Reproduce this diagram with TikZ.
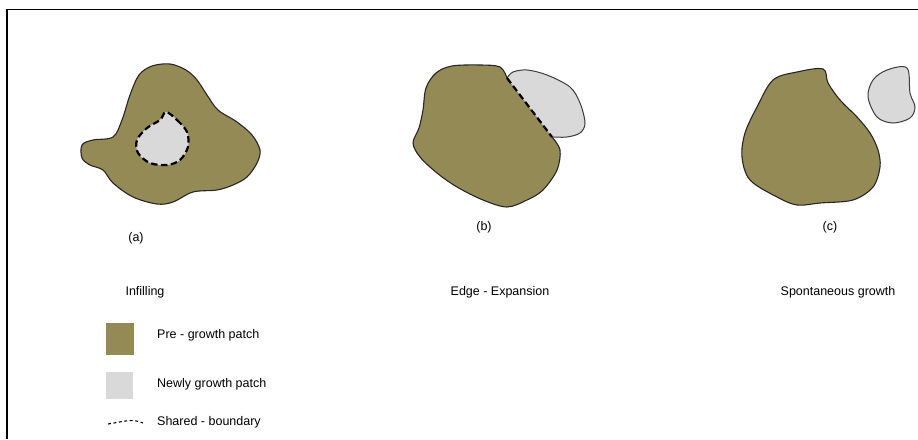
\documentclass[tikz,border=0pt]{standalone}
\usepackage{fontspec}
\setmainfont{Liberation Sans}
\definecolor{olive}{RGB}{148,138,86}
\definecolor{lightpatch}{RGB}{217,217,217}
\definecolor{edgegray}{RGB}{60,60,60}
\tikzset{
  pre/.style={fill=olive,draw=black!85,line width=1.1pt},
  prefill/.style={fill=olive},
  preline/.style={draw=black!85,line width=1.1pt},
  newp/.style={fill=lightpatch,draw=edgegray,line width=1pt},
  newfill/.style={fill=lightpatch},
  newline/.style={draw=edgegray,line width=1pt},
  shared/.style={draw=black,line width=2.2pt,dash pattern=on 6.5pt off 3.5pt},
  lbl/.style={font=\fontsize{12.5}{15}\selectfont,inner sep=0pt},
  leg/.style={lbl,anchor=west}
}
\begin{document}
\begin{tikzpicture}[x=1pt,y=-1pt]
\useasboundingbox (0,0) rectangle (918,439);
% frame
\draw[line width=1.2pt] (7,439) -- (7,9.5) -- (918,9.5);

% ---------- (a) infilling ----------
\draw[pre] plot[smooth cycle,tension=0.55] coordinates {
 (152,66) (170,64) (186,70) (197,80) (207,95) (218,110) (237,122) (252,135) (260,150)
 (257,163) (247,177) (233,185) (217,190) (193,192) (173,202) (157,204)
 (133,197) (113,183) (103,170) (90,165) (82,158) (82,145) (93,140) (113,137)
 (122,120) (130,95) (139,75)};
\path[newfill] plot[smooth cycle,tension=0.55] coordinates {
 (166,112) (177,120) (187,132) (188,147) (180,160) (167,165) (150,163)
 (138,153) (137,140) (147,128) (160,120)};
\draw[shared] plot[smooth cycle,tension=0.55] coordinates {
 (166,112) (177,120) (187,132) (188,147) (180,160) (167,165) (150,163)
 (138,153) (137,140) (147,128) (160,120)};

% ---------- (b) edge expansion ----------
\coordinate (bs) at (507,78);
\coordinate (be) at (552,137);
\path[newfill] plot[smooth,tension=0.55] coordinates {
 (507,78) (513,72) (527,70) (547,75) (570,87) (580,103) (585,123) (580,133)
 (567,137) (552,137)} -- cycle;
\draw[newline] plot[smooth,tension=0.55] coordinates {
 (507,78) (513,72) (527,70) (547,75) (570,87) (580,103) (585,123) (580,133)
 (567,137) (552,137)};
\path[prefill] plot[smooth,tension=0.55] coordinates {
 (552,137) (560,150) (557,170) (543,190) (527,200) (507,207) (483,200)
 (457,187) (437,173) (420,157) (413,143) (419,128) (423,110) (426,88)
 (436,73) (452,66) (480,65) (500,67) (507,78)} -- cycle;
\draw[preline] plot[smooth,tension=0.55] coordinates {
 (552,137) (560,150) (557,170) (543,190) (527,200) (507,207) (483,200)
 (457,187) (437,173) (420,157) (413,143) (419,128) (423,110) (426,88)
 (436,73) (452,66) (480,65) (500,67) (507,78)};
\draw[shared] (bs) -- (be);

% ---------- (c) spontaneous growth ----------
\draw[pre] plot[smooth cycle,tension=0.55] coordinates {
 (773,80) (797,72) (823,69) (828,83) (840,100) (857,117) (870,133) (878,150)
 (880,167) (873,187) (853,200) (820,203) (797,205) (777,197) (750,180)
 (742,157) (745,133) (757,107)};
\draw[newp] plot[smooth cycle,tension=0.55] coordinates {
 (873,80) (887,70) (907,68) (910,93) (915,107) (910,118) (893,123) (877,117)
 (868,97)};

% ---------- labels ----------
\node[lbl] (la) at (136,238) {(a)};
\node[lbl] (lb) at (484,227) {(b)};
\node[lbl] (lc) at (830,227) {(c)};
\node[lbl] (ta) at (145,292) {Infilling};
\node[lbl] (tb) at (500,292) {Edge - Expansion};
\node[lbl] (tc) at (838,292) {Spontaneous growth};

% ---------- legend ----------
\path[prefill] (106,323) rectangle (134,355);
\path[newfill] (106,372) rectangle (133,399);
\coordinate (d1) at (108,424);
\coordinate (d2) at (143,423);
\draw[black,line width=1.1pt,dash pattern=on 3pt off 2.5pt] (d1) .. controls (122,422) and (132,418) .. (d2);
\node[leg] (lg1) at (157,335) {Pre - growth patch};
\node[leg] (lg2) at (157,384) {Newly growth patch};
\node[leg] (lg3) at (157,422) {Shared - boundary};
\end{tikzpicture}
\end{document}
